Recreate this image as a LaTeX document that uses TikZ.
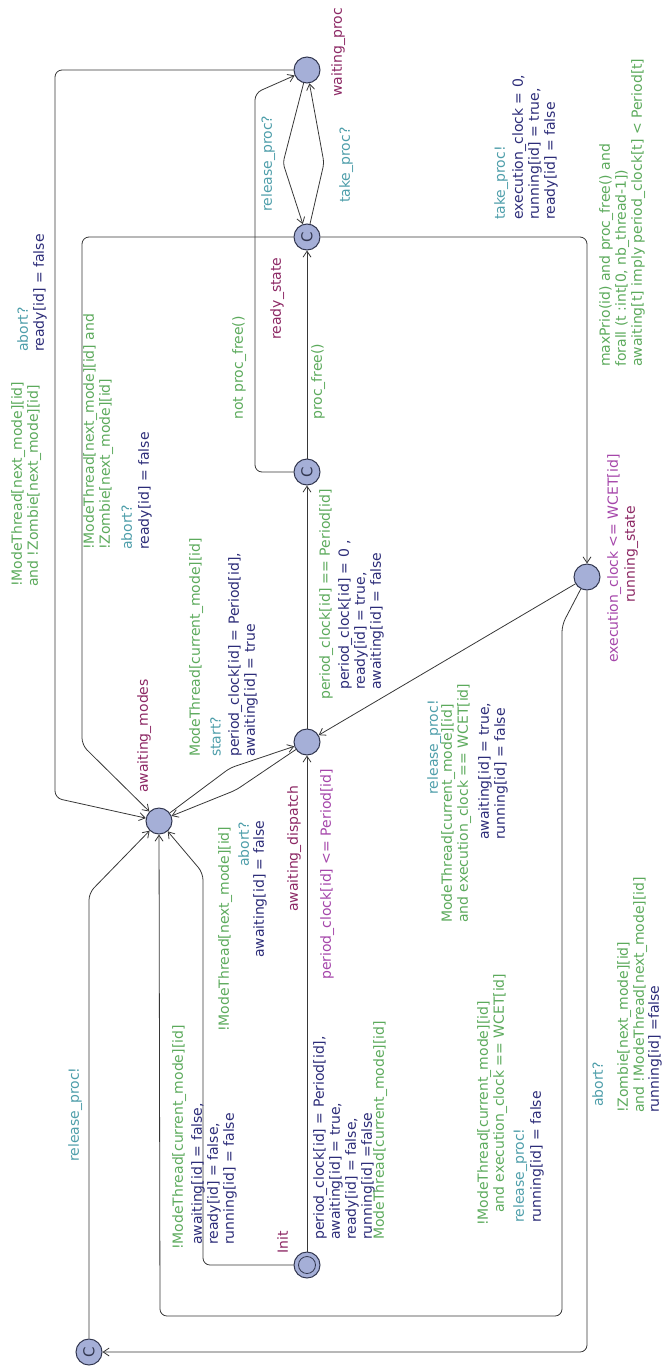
\documentclass[tikz,border=0pt]{standalone}
\usepackage{fontspec}
\setmainfont{DejaVu Sans}
\usetikzlibrary{arrows.meta}

\definecolor{guardc}{RGB}{92,170,92}
\definecolor{syncc}{RGB}{78,158,170}
\definecolor{updc}{RGB}{44,44,120}
\definecolor{namec}{RGB}{140,40,100}
\definecolor{invc}{RGB}{165,70,170}
\definecolor{locfill}{RGB}{165,175,215}
\definecolor{locline}{RGB}{50,55,80}
\definecolor{edgec}{RGB}{55,55,55}

\begin{document}
\begin{tikzpicture}[x=1pt,y=-1pt,
  loc/.style={circle,draw=locline,fill=locfill,line width=1pt,minimum size=26pt,inner sep=0pt},
  com/.style={loc,rotate=90,font=\fontsize{15}{15}\selectfont,text=locline},
  lbl/.style={rotate=90,anchor=north west,inner sep=0pt,align=left,font=\fontsize{14}{16}\selectfont},
  lblr/.style={lbl,anchor=north east,align=right},
  guard/.style={lbl,text=guardc},
  sync/.style={lbl,text=syncc},
  syncr/.style={lblr,text=syncc},
  upd/.style={lbl,text=updc},
  lname/.style={lbl,text=namec},
  inv/.style={lbl,text=invc},
  edge/.style={draw=edgec,line width=0.8pt,-{Straight Barb[length=6pt,width=8pt]},rounded corners=7pt},
]
\useasboundingbox (0,0) rectangle (667,1368);

% locations
\node[loc] (wp)  at (307,70)   {};
\node[com] (rs)  at (307,237)  {C};
\node[com] (cn)  at (307,472)  {C};
\node[loc] (ad)  at (307,742)  {};
\node[loc] (am)  at (159,821)  {};
\node[loc] (run) at (587,577)  {};
\node[loc] (init) at (307,1265) {};
\node[circle,draw=locline,line width=0.8pt,minimum size=17pt,inner sep=0pt] (initin) at (init) {};
\node[com] (rel) at (89,1352)  {C};

% location names and invariants
\node[lname] (nwp)  at (331,97)   {waiting\_proc};
\node[lname] (nrs)  at (270,340)  {ready\_state};
\node[lname] (nam)  at (137,793)  {awaiting\_modes};
\node[lname] (nad)  at (287,912)  {awaiting\_dispatch};
\node[inv]   (iad)  at (320,980)  {period\_clock[id] <= Period[id]};
\node[inv]   (irun) at (607,663)  {execution\_clock <= WCET[id]};
\node[lname] (nrun) at (624,603)  {running\_state};
\node[lname] (ninit) at (277,1254) {Init};

% waiting_proc -> awaiting_modes
\draw[edge] (wp) -- (55,70) -- (55,798) -- (am);
\node[guard] (g1) at (11,587) {!ModeThread[next\_mode][id]\\and !Zombie[next\_mode][id]};
\node[sync]  (s1) at (17,352) {abort?};
\node[upd]   (u1) at (33,352) {ready[id] = false};

% ready_state -> awaiting_modes
\draw[edge] (rs) -- (82,237) -- (82,745) -- (am);
\node[guard] (g2) at (83,550) {!ModeThread[next\_mode][id] and\\!Zombie[next\_mode][id]};
\node[sync]  (s2) at (121,550) {abort?};
\node[upd]   (u2) at (138,550) {ready[id] = false};

% ready_state -> running_state
\draw[edge] (rs) -- (587,237) -- (run);
\node[sync]  (s3) at (494,220) {take\_proc!};
\node[upd]   (u3) at (512,220) {execution\_clock = 0,\\running[id] = true,\\ready[id] = false};
\node[guard] (g3) at (599,367) {maxPrio(id) and proc\_free() and\\forall (t :int[0, nb\_thread-1])\\awaiting[t] imply period\_clock[t] < Period[t]};

% waiting_proc <-> ready_state
\draw[edge,rounded corners=4pt] (wp) -- (283,163) -- (rs);
\node[sync] (s4) at (261,212) {release\_proc?};
\draw[edge,rounded corners=4pt] (rs) -- (324,163) -- (wp);
\node[sync] (s5) at (339,203) {take\_proc?};

% committed check of the processor
\draw[edge] (cn) -- (255,472) -- (255,93) -- (wp);
\node[guard] (g6) at (232,420) {not proc\_free()};
\draw[edge] (cn) -- (rs);
\node[guard] (g7) at (311,420) {proc\_free()};

% awaiting_dispatch -> committed
\draw[edge] (ad) -- (cn);
\node[guard] (g8) at (319,700) {period\_clock[id] == Period[id]};
\node[upd]   (u8) at (338,690) {period\_clock[id] = 0 ,\\ready[id] = true,\\awaiting[id] = false};

% running_state -> awaiting_dispatch
\draw[edge] (run) -- (ad);
\node[syncr] (s9) at (427,700) {release\_proc!};
\node[guard] (g9) at (441,923) {ModeThread[current\_mode][id]\\and execution\_clock == WCET[id]};
\node[upd]   (u9) at (478,840) {awaiting[id] = true,\\running[id] = false};

% running_state -> awaiting_modes
\draw[edge] (run) -- (562,625) -- (562,1316) -- (160,1316) -- (am);
\node[guard] (g10) at (477,1226) {!ModeThread[current\_mode][id]\\\hspace*{13pt}and execution\_clock == WCET[id]};
\node[sync]  (s10) at (513,1223) {release\_proc!};
\node[upd]   (u10) at (530,1223) {running[id] = false};

% running_state -> release
\draw[edge] (run) -- (587,1352) -- (rel);
\node[sync]  (s11) at (592,1107) {abort?};
\node[guard] (g11) at (617,1113) {!Zombie[next\_mode][id]\\and !ModeThread[next\_mode][id]};
\node[upd]   (u11) at (648,1113) {running[id] =false};

% release -> awaiting_modes
\draw[edge] (rel) -- (89,893) -- (am);
\node[sync] (s12) at (68,1162) {release\_proc!};

% Init -> awaiting_modes
\draw[edge] (init) -- (203,1265) -- (203,873) -- (am);
\node[guard] (g13) at (172,1250) {!ModeThread[current\_mode][id]};
\node[upd]   (u13) at (191,1245) {awaiting[id] = false,\\ready[id] = false,\\running[id] = false};

% Init -> awaiting_dispatch
\draw[edge] (init) -- (ad);
\node[upd]   (u14) at (313,1240) {period\_clock[id] = Period[id],\\awaiting[id] = true,\\ready[id] = false,\\running[id] =false};
\node[guard] (g14) at (373,1240) {ModeThread[current\_mode][id]};

% awaiting_modes <-> awaiting_dispatch
\draw[edge,rounded corners=5pt] (am) -- (230,768) -- (ad);
\node[guard] (g15) at (189,757) {ModeThread[current\_mode][id]};
\node[sync]  (s15) at (210,757) {start?};
\node[upd]   (u15) at (228,757) {period\_clock[id] = Period[id],\\awaiting[id] = true};
\draw[edge,rounded corners=5pt] (ad) -- (236,790) -- (am);
\node[guard] (g16) at (218,1032) {!ModeThread[next\_mode][id]};
\node[syncr] (s16) at (238,822) {abort?};
\node[upd]   (u16) at (253,958) {awaiting[id] = false};
\end{tikzpicture}
\end{document}
